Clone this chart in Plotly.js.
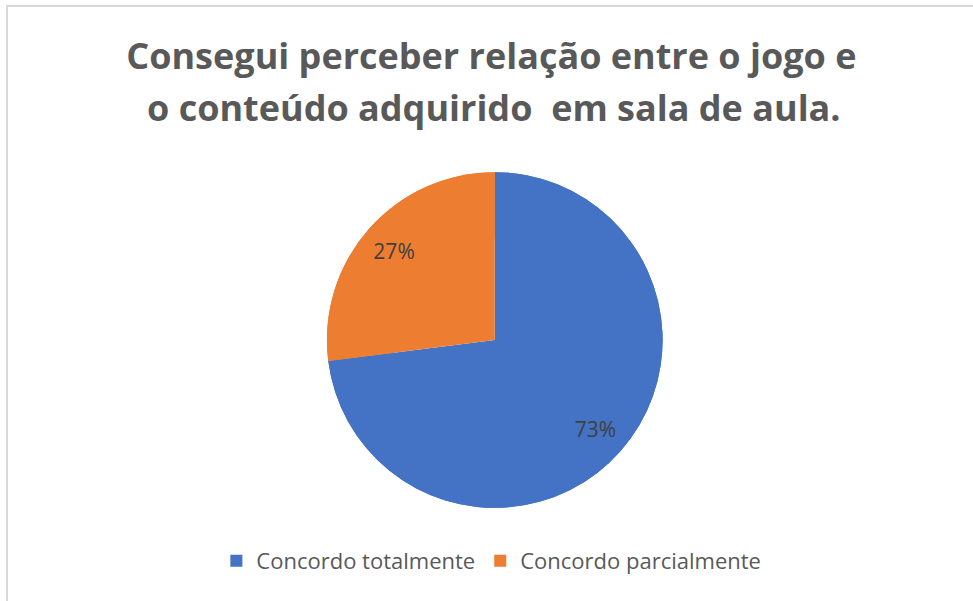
<!DOCTYPE html>
<html>
<head>
<meta charset="utf-8">
<script src="https://cdn.plot.ly/plotly-3.0.1.min.js"></script>
<style>html,body{margin:0;padding:0;background:#fff;}#chart{width:973px;height:601px;}</style>
</head>
<body>
<div id="chart"></div>
<script>
const titleLines = ["Consegui perceber relação entre o jogo e", "o conteúdo adquirido  em sala de aula."];
const categories = ["Concordo totalmente", "Concordo parcialmente"];
const values = [73, 27];
const sliceColors = ["#4472C4", "#ED7D31"];

const pieDomain = {x: [0.336, 0.681], y: [0.1547, 0.7138]};

// full pie (slices + legend)
const basePie = {
  type: "pie",
  labels: categories,
  values: values,
  sort: false,
  direction: "clockwise",
  rotation: 0,
  marker: {colors: sliceColors, line: {width: 0}},
  textinfo: "none",
  hoverinfo: "label+percent",
  domain: pieDomain
};

// same data as a ring on top, only to carry the percent labels out near the rim
const labelRing = {
  type: "pie",
  labels: categories,
  values: values,
  sort: false,
  direction: "clockwise",
  rotation: 0,
  hole: 0.6,
  showlegend: false,
  marker: {colors: sliceColors, line: {width: 0}},
  texttemplate: "%{percent:.0%}",
  textposition: "inside",
  insidetextorientation: "horizontal",
  insidetextfont: {family: "Open Sans", size: 21, color: "#404040"},
  hoverinfo: "skip",
  domain: pieDomain
};

const layout = {
  width: 973, height: 601,
  margin: {l: 0, r: 0, t: 0, b: 0},
  paper_bgcolor: "#ffffff",
  plot_bgcolor: "#ffffff",
  title: {
    text: titleLines[0],
    font: {family: "Open Sans", size: 36, color: "#595959", weight: "bold"},
    x: 0.505, xanchor: "center",
    yref: "container", y: 1 - 56/601, yanchor: "middle"
  },
  annotations: [{
    text: titleLines[1],
    font: {family: "Open Sans", size: 36, color: "#595959", weight: "bold"},
    xref: "paper", yref: "paper", x: 0.508, xanchor: "center",
    y: 1 - 107/601, yanchor: "middle", showarrow: false
  }],
  showlegend: true,
  legend: {
    orientation: "h", x: 0.505, xanchor: "center", y: 1 - 561/601, yanchor: "middle",
    font: {family: "Open Sans", size: 22, color: "#595959"},
    traceorder: "normal", itemclick: false, itemwidth: 30
  },
  shapes: [{
    type: "rect", xref: "paper", yref: "paper",
    x0: 7/973, x1: 1.05, y0: -0.05, y1: 1 - 6/601,
    line: {color: "#d9d9d9", width: 2}, fillcolor: "rgba(0,0,0,0)", layer: "below"
  }]
};

Plotly.newPlot("chart", [basePie, labelRing], layout, {displayModeBar: false, staticPlot: true});
</script>
</body>
</html>
